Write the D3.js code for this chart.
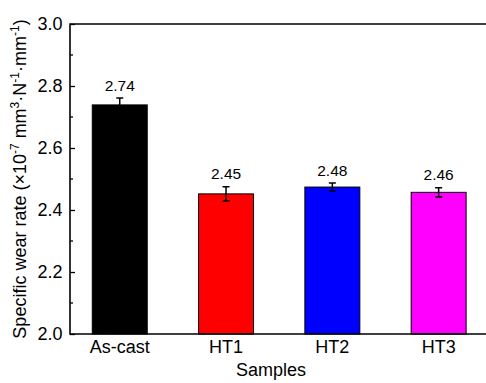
<!DOCTYPE html>
<html>
<head>
<meta charset="utf-8">
<script src="https://cdn.jsdelivr.net/npm/d3@7"></script>
<style>
  body { margin: 0; background: #fff; }
  text { font-family: Arial, "Liberation Sans", sans-serif; }
</style>
</head>
<body>
<script>
/* ------------------------------- Chart data ------------------------------- */
const samples = ["As-cast", "HT1", "HT2", "HT3"];
const wearRate = [2.739, 2.452, 2.474, 2.457];
const wearError = [0.022, 0.023, 0.013, 0.015];
const valueLabels = ["2.74", "2.45", "2.48", "2.46"];
const barColors = ["#000000", "#ff0000", "#0000ff", "#ff00ff"];
const yTicks = [2.0, 2.2, 2.4, 2.6, 2.8, 3.0];

/* ------------------------------ Window layout ----------------------------- */
const vWidth = 486, vHeight = 383;
const plotLeft = 70, plotTop = 24, plotBottom = 334, plotRight = 500;

const svg = d3.select("body").append("svg").attr("width", vWidth).attr("height", vHeight);

const x = d3.scaleBand().domain(samples).range([66.6, 491.8]).paddingInner(0.483).paddingOuter(0.2415);
const y = d3.scaleLinear().domain([2.0, 3.0]).range([plotBottom, plotTop]);

/* ---------------------------------- Bars ---------------------------------- */
const g = svg.selectAll("g.bar").data(samples).enter().append("g").attr("class", "bar");

g.append("rect")
    .attr("x", d => x(d))
    .attr("y", (d, i) => y(wearRate[i]))
    .attr("width", x.bandwidth())
    .attr("height", (d, i) => plotBottom - y(wearRate[i]))
    .attr("fill", (d, i) => barColors[i])
    .attr("stroke", "#000")
    .attr("stroke-width", 1);

// error bars
const cap = 3.5;
g.append("path")
    .attr("d", (d, i) => {
        const cx = x(d) + x.bandwidth() / 2;
        const y1 = y(wearRate[i] + wearError[i]), y0 = y(wearRate[i] - wearError[i]);
        return `M${cx},${y0}V${y1}M${cx - cap},${y1}H${cx + cap}M${cx - cap},${y0}H${cx + cap}`;
    })
    .attr("stroke", "#000")
    .attr("stroke-width", 1.5)
    .attr("fill", "none");

// value labels
g.append("text")
    .attr("x", d => x(d) + x.bandwidth() / 2)
    .attr("y", (d, i) => y(wearRate[i] + wearError[i]) - 7.5)
    .attr("text-anchor", "middle")
    .attr("font-size", "15.5px")
    .attr("fill", "#000")
    .text((d, i) => valueLabels[i]);

/* ---------------------------------- Axes ---------------------------------- */
const yAxis = d3.axisLeft(y).tickValues(yTicks).tickSize(-5).tickFormat(d3.format(".1f")).tickPadding(7.5);
const ya = svg.append("g").attr("transform", `translate(${plotLeft},0)`).call(yAxis);
ya.select(".domain").remove();
ya.selectAll(".tick line").attr("stroke-width", 1.3);
ya.selectAll(".tick text").attr("font-size", "18px").attr("font-family", "Arial, 'Liberation Sans', sans-serif").attr("fill", "#000");

// minor ticks
const minor = d3.range(2.1, 3.0, 0.2);
svg.selectAll("line.minor").data(minor).enter().append("line")
    .attr("x1", plotLeft).attr("x2", plotLeft + 3)
    .attr("y1", d => y(d)).attr("y2", d => y(d))
    .attr("stroke", "#000").attr("stroke-width", 1.3);

// frame (left, top, bottom)
svg.append("path")
    .attr("d", `M${plotRight},${plotTop}H${plotLeft}V${plotBottom}H${plotRight}`)
    .attr("stroke", "#000").attr("stroke-width", 1.6).attr("fill", "none");

// category labels
svg.selectAll("text.cat").data(samples).enter().append("text")
    .attr("class", "cat")
    .attr("x", d => x(d) + x.bandwidth() / 2)
    .attr("y", 353)
    .attr("text-anchor", "middle")
    .attr("font-size", "18px")
    .text(d => d);

// axis titles
svg.append("text")
    .attr("x", (plotLeft + 491.8) / 2 - 10)
    .attr("y", 376)
    .attr("text-anchor", "middle")
    .attr("font-size", "18px")
    .text("Samples");

const yt = svg.append("text")
    .attr("transform", `translate(26,${(plotTop + plotBottom) / 2}) rotate(-90)`)
    .attr("text-anchor", "middle")
    .attr("font-size", "18px");
yt.append("tspan").text("Specific wear rate (\u00d710");
yt.append("tspan").attr("dy", -7).attr("font-size", "12px").text("-7");
yt.append("tspan").attr("dy", 7).text(" mm");
yt.append("tspan").attr("dy", -7).attr("font-size", "12px").text("3");
yt.append("tspan").attr("dy", 7).text("\u00b7N");
yt.append("tspan").attr("dy", -7).attr("font-size", "12px").text("-1");
yt.append("tspan").attr("dy", 7).text("\u00b7mm");
yt.append("tspan").attr("dy", -7).attr("font-size", "12px").text("-1");
yt.append("tspan").attr("dy", 7).text(")");
</script>
</body>
</html>
